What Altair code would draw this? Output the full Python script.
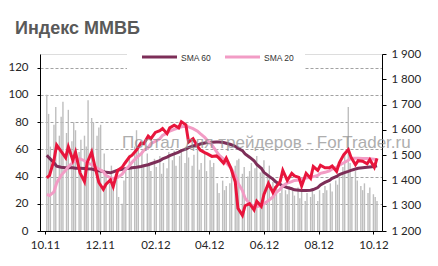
import altair as alt
import pandas as pd

# ---------------- data ----------------
all_days = pd.bdate_range("2011-10-03", "2012-10-05")
line_dates = list(all_days[::3].strftime("%Y-%m-%d"))   # 89 points
bar_dates = list(all_days[::2].strftime("%Y-%m-%d"))    # 133 points

price = [1410, 1420, 1480, 1540, 1515, 1490, 1533, 1480, 1512, 1430,
         1395, 1470, 1512, 1465, 1392, 1365, 1385, 1402, 1375, 1440,
         1452, 1468, 1492, 1500, 1520, 1548, 1545, 1575, 1565, 1590,
         1597, 1605, 1585, 1608, 1618, 1608, 1632, 1620, 1552, 1565,
         1535, 1520, 1510, 1505, 1495, 1497, 1488, 1468, 1488, 1450,
         1395, 1290, 1262, 1300, 1308, 1283, 1318, 1298, 1345, 1388,
         1352, 1372, 1395, 1440, 1400, 1428, 1418, 1412, 1378, 1428,
         1408, 1455, 1440, 1460, 1450, 1450, 1457, 1436, 1470, 1502,
         1522, 1492, 1462, 1478, 1476, 1466, 1482, 1452, 1487]

sma20 = [1345, 1340, 1355, 1390, 1420, 1440, 1455, 1470, 1480, 1485,
         1478, 1470, 1462, 1455, 1445, 1435, 1420, 1410, 1408, 1412,
         1425, 1440, 1458, 1472, 1490, 1505, 1518, 1530, 1545, 1555,
         1565, 1578, 1588, 1595, 1602, 1608, 1612, 1614, 1612, 1605,
         1595, 1585, 1570, 1558, 1540, 1515, 1500, 1485, 1470, 1450,
         1420, 1390, 1360, 1330, 1308, 1298, 1296, 1300, 1308, 1320,
         1335, 1350, 1365, 1378, 1390, 1395, 1400, 1402, 1405, 1410,
         1412, 1415, 1420, 1428, 1432, 1438, 1445, 1452, 1460, 1470,
         1480, 1488, 1488, 1488, 1487, 1487, 1486, 1484, 1482]

sma60 = [1500, 1488, 1470, 1456, 1452, 1450, 1450, 1450, 1448, 1448,
         1447, 1446, 1445, 1442, 1438, 1435, 1432, 1430, 1434, 1440,
         1444, 1446, 1448, 1450, 1452, 1455, 1458, 1462, 1466, 1472,
         1478, 1485, 1492, 1498, 1505, 1512, 1518, 1524, 1530, 1536,
         1540, 1544, 1548, 1550, 1551, 1552, 1552, 1550, 1547, 1542,
         1535, 1527, 1518, 1505, 1492, 1478, 1463, 1448, 1432, 1418,
         1405, 1395, 1385, 1378, 1372, 1367, 1363, 1361, 1360, 1360,
         1361, 1364, 1372, 1382, 1392, 1400, 1408, 1416, 1423, 1430,
         1436, 1440, 1445, 1448, 1450, 1452, 1453, 1455, 1458]

volume = [100, 86, 62, 78, 91, 70, 84, 95, 72, 89,
          66, 80, 74, 58, 67, 70, 62, 96, 83, 80,
          70, 76, 78, 57, 42, 35, 48, 30, 40, 25,
          20, 37, 45, 56, 48, 62, 74, 60, 59, 48,
          57, 50, 44, 53, 47, 55, 42, 50, 46, 58,
          52, 59, 48, 55, 60, 50, 62, 54, 48, 56,
          62, 45, 50, 57, 44, 52, 47, 50, 35, 28,
          37, 30, 33, 35, 44, 48, 52, 53, 42, 47,
          40, 44, 50, 46, 55, 43, 47, 52, 39, 48,
          36, 33, 37, 28, 34, 30, 27, 33, 31, 26,
          32, 24, 30, 22, 28, 25, 31, 27, 22, 30,
          28, 33, 30, 35, 29, 37, 34, 40, 47, 58,
          91, 50, 39, 44, 37, 33, 30, 35, 28, 32,
          27, 25, 22]

left_ticks = [0, 20, 40, 60, 80, 100, 120]
right_ticks = [1200, 1300, 1400, 1500, 1600, 1700, 1800, 1900]
month_ticks = [(2011, 10), (2011, 12), (2012, 2), (2012, 4), (2012, 6), (2012, 8), (2012, 10)]
legend_labels = ["SMA 60", "SMA 20"]

n = min(len(line_dates), len(price), len(sma20), len(sma60))
df_line = pd.DataFrame({"date": line_dates[:n], "price": price[:n],
                        "sma20": sma20[:n], "sma60": sma60[:n]})
m = min(len(bar_dates), len(volume))
df_bar = pd.DataFrame({"date": bar_dates[:m], "vol": volume[:m]})

# ---------------- styling ----------------
W, H = 342, 177
LAB_FONT = "Lato"
TXT = "#262626"
C60, C20, CP = "#7D2E58", "#F29CC5", "#E8153C"

x_scale = alt.Scale(type="utc",
                    domain=[alt.DateTime(year=2011, month=10, date=1, utc=True),
                            alt.DateTime(year=2012, month=10, date=5, utc=True)])
x_axis = alt.Axis(values=[alt.DateTime(year=y, month=mo, date=1, utc=True) for y, mo in month_ticks],
                  labelExpr="utcFormat(datum.value, '%m.%y')", title=None, grid=False,
                  domainColor="#000000", tickColor="#000000", tickSize=3,
                  labelFont=LAB_FONT, labelFontSize=11.5, labelColor=TXT,
                  labelPadding=5, labelFlush=False, orient="bottom")

bars = alt.Chart(df_bar).mark_bar(size=1.4, color="#BEBEBE").encode(
    x=alt.X("date:T", scale=x_scale, axis=x_axis),
    y=alt.Y("vol:Q", scale=alt.Scale(domain=[0, 130], nice=False),
            axis=alt.Axis(orient="left", values=left_ticks, title=None,
                          grid=True, gridDash=[3, 2], gridColor="#7a7a7a", gridWidth=0.7,
                          domainColor="#000000", tickColor="#000000", tickSize=3,
                          labelFont=LAB_FONT, labelFontSize=11.5, labelColor=TXT,
                          labelPadding=9)),
)

y_right = alt.Scale(domain=[1200, 1900], nice=False, zero=False)
right_axis = alt.Axis(orient="right", values=right_ticks, title=None, grid=False,
                      labelExpr="replace(format(datum.value, ','), ',', ' ')",
                      domainColor="#000000", tickColor="#000000", tickSize=4,
                      labelFont=LAB_FONT, labelFontSize=11.5, labelColor=TXT,
                      labelPadding=5)

long = df_line.melt(id_vars="date", value_vars=["sma60", "sma20", "price"],
                    var_name="series", value_name="value")
long["ord"] = long["series"].map({"sma60": 0, "sma20": 1, "price": 2})

lines = alt.Chart(long).mark_line(strokeWidth=3).encode(
    x=alt.X("date:T", scale=x_scale, axis=x_axis),
    y=alt.Y("value:Q", scale=y_right, axis=right_axis),
    color=alt.Color("series:N", scale=alt.Scale(domain=["sma60", "sma20", "price"],
                                                range=[C60, C20, CP]), legend=None),
    detail="ord:O",
)

# legend (white box with two line symbols), positioned in pixels
one = pd.DataFrame({"a": [0]})
leg_box = alt.Chart(one).mark_rect(color="white").encode(
    x=alt.value(87), x2=alt.value(265), y=alt.value(-8), y2=alt.value(16))
sym60 = alt.Chart(one).mark_rule(strokeWidth=3, color=C60).encode(
    x=alt.value(102), x2=alt.value(137), y=alt.value(3))
sym20 = alt.Chart(one).mark_rule(strokeWidth=3, color=C20).encode(
    x=alt.value(185), x2=alt.value(220), y=alt.value(3))
txt60 = alt.Chart(one).mark_text(align="left", baseline="middle", fontSize=8.5,
                                 font="Liberation Sans", color="#333333",
                                 text=legend_labels[0]).encode(
    x=alt.value(141), y=alt.value(3.5))
txt20 = alt.Chart(one).mark_text(align="left", baseline="middle", fontSize=8.5,
                                 font="Liberation Sans", color="#333333",
                                 text=legend_labels[1]).encode(
    x=alt.value(224), y=alt.value(3.5))

# watermark
wm = alt.Chart(one).mark_text(
    align="left", baseline="middle", fontSize=17, font="Liberation Sans",
    color="#8c8c8c", opacity=0.7, text="Портал для трейдеров - ForTrader.ru").encode(
    x=alt.value(82), y=alt.value(89))

chart = alt.layer(bars, leg_box, lines, sym60, sym20, txt60, txt20, wm).resolve_scale(
    y="independent"
).properties(
    width=W, height=H,
    title=alt.TitleParams("Индекс ММВБ", anchor="start", dx=7, fontSize=18,
                          font="Liberation Sans", fontWeight="bold", color="#595959",
                          offset=8),
    padding={"left": 40, "top": 54, "right": 56, "bottom": 35},
    autosize=alt.AutoSizeParams(type="none"),
).configure_view(stroke=None).configure(background="white")

chart.save("out.html", embed_options={"renderer": "svg", "actions": False})
